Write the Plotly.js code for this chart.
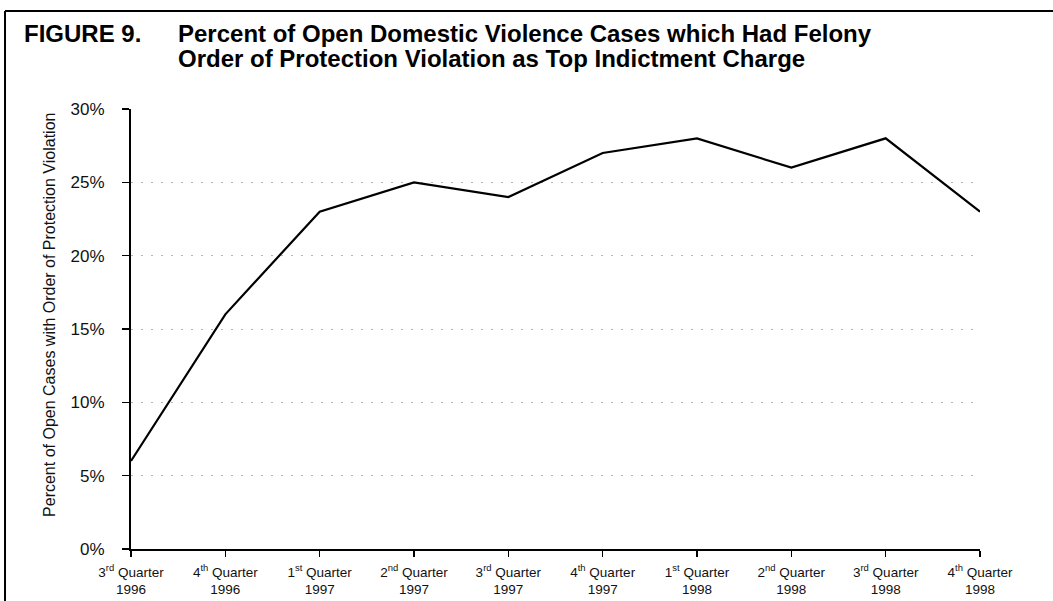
<!DOCTYPE html>
<html>
<head>
<meta charset="utf-8">
<script src="https://cdn.plot.ly/plotly-3.0.1.min.js"></script>
<style>html,body{margin:0;padding:0;background:#fff;}#chart{width:1053px;height:601px;}</style>
</head>
<body>
<div id="chart"></div>
<script>
const quarters = ["3<sup>rd</sup> Quarter<br>1996","4<sup>th</sup> Quarter<br>1996","1<sup>st</sup> Quarter<br>1997","2<sup>nd</sup> Quarter<br>1997","3<sup>rd</sup> Quarter<br>1997","4<sup>th</sup> Quarter<br>1997","1<sup>st</sup> Quarter<br>1998","2<sup>nd</sup> Quarter<br>1998","3<sup>rd</sup> Quarter<br>1998","4<sup>th</sup> Quarter<br>1998"];
const percentValues = [6, 16, 23, 25, 24, 27, 28, 26, 28, 23];
const yTickVals = [0, 5, 10, 15, 20, 25, 30];
const yTickText = ["0%", "5%", "10%", "15%", "20%", "25%", "30%"];
const titleLines = ["Percent of Open Domestic Violence Cases which Had Felony", "Order of Protection Violation as Top Indictment Charge"];
const figureLabel = "FIGURE 9.";
const yTitle = "Percent of Open Cases with Order of Protection Violation";
const positions = quarters.map((q, i) => i);

const font = "Liberation Sans, Arial, sans-serif";

const trace = {
  x: positions,
  y: percentValues,
  type: "scatter",
  mode: "lines",
  line: {color: "#000", width: 2.2},
  hoverinfo: "skip"
};

const layout = {
  width: 1053, height: 601,
  margin: {l: 131, r: 73, t: 109, b: 52},
  paper_bgcolor: "#fff", plot_bgcolor: "#fff",
  showlegend: false,
  font: {family: font, color: "#000"},
  xaxis: {
    range: [0, 9], tickvals: positions, ticktext: quarters,
    showline: true, linecolor: "#000", linewidth: 1.5,
    ticks: "outside", ticklen: 6, tickwidth: 1.5, tickcolor: "#000",
    ticklabelstandoff: 4,
    showgrid: false, zeroline: false, fixedrange: true,
    tickfont: {family: font, size: 13.5, color: "#111"}
  },
  yaxis: {
    range: [0, 30], tickvals: yTickVals, ticktext: yTickText,
    showline: true, linecolor: "#000", linewidth: 2,
    ticks: "outside", ticklen: 7, tickwidth: 1.5, tickcolor: "#000",
    ticklabelstandoff: 14,
    showgrid: true, gridcolor: "#b5b5b5", gridwidth: 1, griddash: "2px,8px",
    zeroline: false, fixedrange: true,
    tickfont: {family: font, size: 17, color: "#111"}
  },
  shapes: [
    {type: "line", xref: "paper", yref: "paper", x0: -0.1484, x1: 1.09, y0: 1.2227, y1: 1.2227, line: {color: "#000", width: 2}},
    {type: "line", xref: "paper", yref: "paper", x0: -0.1484, x1: -0.1484, y0: 1.2227, y1: -0.12, line: {color: "#000", width: 2}}
  ],
  annotations: [
    {text: "<b>" + figureLabel + "</b>", xref: "paper", yref: "paper", x: -0.1284, y: 1.1716, xanchor: "left", yanchor: "middle", showarrow: false, font: {family: font, size: 24, color: "#000"}},
    {text: "<b>" + titleLines[0] + "</b>", xref: "paper", yref: "paper", x: 0.0530, y: 1.1716, xanchor: "left", yanchor: "middle", showarrow: false, font: {family: font, size: 24, color: "#000"}},
    {text: "<b>" + titleLines[1] + "</b>", xref: "paper", yref: "paper", x: 0.0530, y: 1.1148, xanchor: "left", yanchor: "middle", showarrow: false, font: {family: font, size: 24, color: "#000"}},
    {text: yTitle, xref: "paper", yref: "paper", x: -0.0954, y: 0.532, xanchor: "center", yanchor: "middle", textangle: -90, showarrow: false, font: {family: font, size: 16, color: "#111"}}
  ]
};

Plotly.newPlot("chart", [trace], layout, {displayModeBar: false, staticPlot: true});
</script>
</body>
</html>
